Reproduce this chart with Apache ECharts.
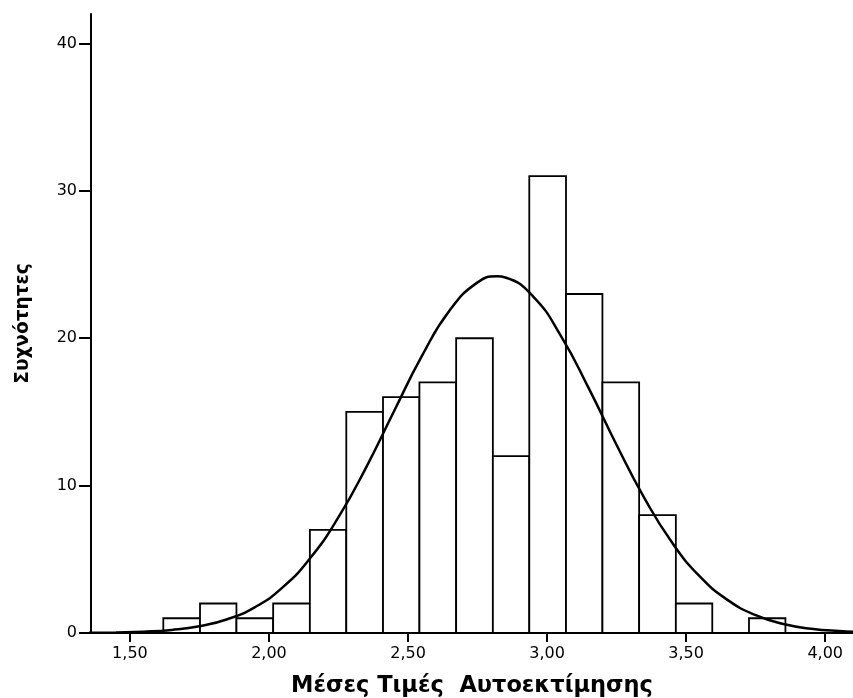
<!DOCTYPE html>
<html>
<head>
<meta charset="utf-8">
<script src="https://cdn.jsdelivr.net/npm/echarts@6/dist/echarts.min.js"></script>
<style>html,body{margin:0;padding:0;background:#fff;}#c{width:853px;height:698px;}</style>
</head>
<body>
<div id="c"></div>
<script>
// Histogram bin edges (x values) and counts
var binEdges = [1.620, 1.752, 1.883, 2.015, 2.147, 2.278, 2.410, 2.541, 2.673, 2.805, 2.936, 3.068, 3.199, 3.331, 3.463, 3.594, 3.726, 3.857];
var counts   = [1, 2, 1, 2, 7, 15, 16, 17, 20, 12, 31, 23, 17, 8, 2, 0, 1];
// Normal curve points
var curveX = [1.35, 1.45, 1.55, 1.65, 1.75, 1.85, 1.95, 2.05, 2.15, 2.25, 2.35, 2.45, 2.55, 2.65, 2.75, 2.82, 2.85, 2.95, 3.05, 3.15, 3.25, 3.35, 3.45, 3.55, 3.65, 3.75, 3.85, 3.95, 4.05, 4.15];
var curveY = [0.01, 0.04, 0.09, 0.21, 0.46, 0.93, 1.76, 3.11, 5.12, 7.86, 11.26, 15.06, 18.80, 21.90, 23.79, 24.20, 24.12, 22.83, 20.15, 16.60, 12.76, 9.15, 6.12, 3.82, 2.23, 1.21, 0.61, 0.29, 0.13, 0.05];
// Axis ticks
var xTicks = [1.5, 2.0, 2.5, 3.0, 3.5, 4.0];
var yTicks = [0, 10, 20, 30, 40];
var xTitle = 'Μέσες Τιμές  Αυτοεκτίμησης';
var yTitle = 'Συχνότητες';

var bins = counts.map(function (c, i) { return [binEdges[i], binEdges[i + 1], c]; });
var curve = curveX.map(function (x, i) { return [x, curveY[i]]; });

var chart = echarts.init(document.getElementById('c'), null, {renderer: 'canvas'});
chart.setOption({
  animation: false,
  backgroundColor: '#fff',
  grid: {left: 91, top: 14, right: 0, bottom: 65, containLabel: false, outerBoundsMode: 'none'},
  xAxis: [{
    type: 'value', min: 1.36, max: 4.10, position: 'bottom',
    name: xTitle, nameLocation: 'middle', nameGap: 42,
    nameTextStyle: {fontFamily: 'DejaVu Sans', fontWeight: 'bold', fontSize: 22.5, color: '#000'},
    axisLine: {show: true, onZero: false, lineStyle: {color: '#000', width: 2}},
    axisTick: {show: true, customValues: xTicks, length: 9, lineStyle: {color: '#000', width: 2}},
    axisLabel: {customValues: xTicks, margin: 13, color: '#000', fontFamily: 'DejaVu Sans', fontSize: 16,
      formatter: function (v) { return v.toFixed(2).replace('.', ','); }},
    splitLine: {show: false}
  }, {
    type: 'value', min: 1.36, max: 4.10, position: 'top',
    axisLine: {show: true, lineStyle: {color: '#000', width: 2}},
    axisTick: {show: false}, axisLabel: {show: false}, splitLine: {show: false}
  }],
  yAxis: {
    type: 'value', min: 0, max: 42,
    name: yTitle, nameLocation: 'middle', nameGap: 58,
    nameTextStyle: {fontFamily: 'DejaVu Sans', fontWeight: 'bold', fontSize: 18.5, color: '#000'},
    axisLine: {show: true, lineStyle: {color: '#000', width: 2}},
    axisTick: {show: true, customValues: yTicks, length: 12, lineStyle: {color: '#000', width: 2}},
    axisLabel: {customValues: yTicks, margin: 14, color: '#000', fontFamily: 'DejaVu Sans', fontSize: 16},
    splitLine: {show: false}
  },
  series: [{
    type: 'custom',
    xAxisIndex: 0,
    data: bins,
    renderItem: function (params, api) {
      var c = api.value(2);
      if (!c) return {type: 'group', children: []};
      var p1 = api.coord([api.value(0), c]);
      var p2 = api.coord([api.value(1), 0]);
      return {
        type: 'rect',
        shape: {x: p1[0], y: p1[1], width: p2[0] - p1[0], height: p2[1] - p1[1]},
        style: {fill: '#fff', stroke: '#000', lineWidth: 1.8}
      };
    },
    encode: {x: [0, 1], y: 2}
  }, {
    type: 'line',
    xAxisIndex: 0,
    data: curve,
    smooth: 0.5,
    showSymbol: false,
    symbol: 'none',
    lineStyle: {color: '#000', width: 2.5},
    z: 5
  }]
});
</script>
</body>
</html>
